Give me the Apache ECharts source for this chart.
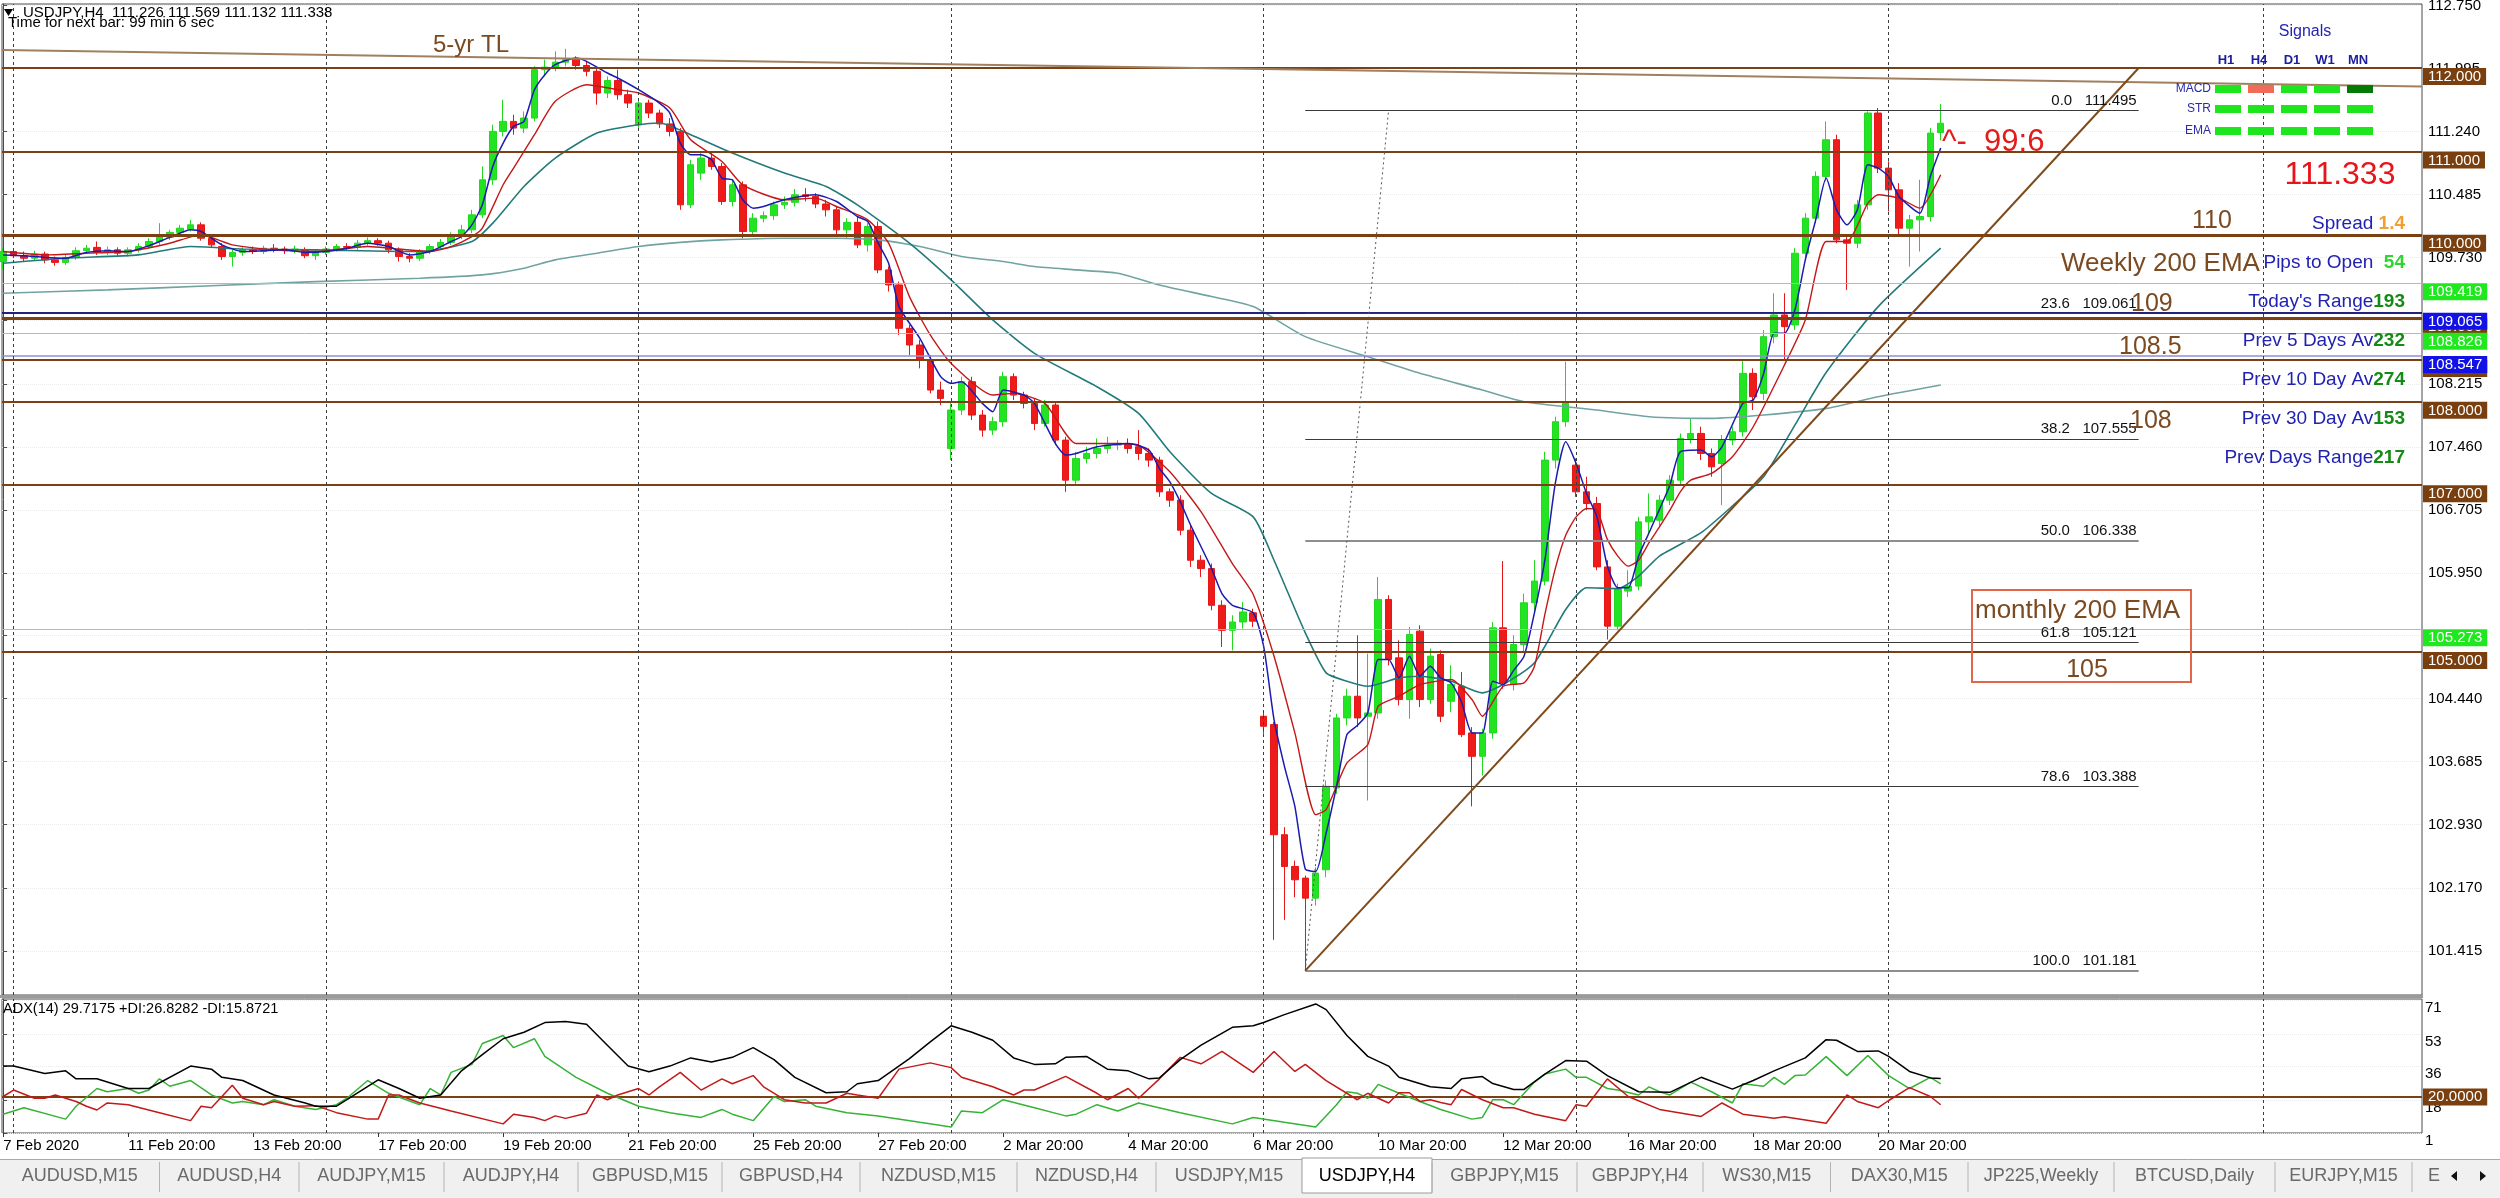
<!DOCTYPE html>
<html>
<head>
<meta charset="utf-8">
<title>USDJPY,H4</title>
<script src="https://cdn.jsdelivr.net/npm/echarts@6.0.0/dist/echarts.min.js"></script>
<style>
html,body{margin:0;padding:0;background:#ffffff;overflow:hidden}
#chart{width:2500px;height:1198px}
</style>
</head>
<body>
<div id="chart"></div>
<script>
// ---------------- DATA ----------------
// H4 bars, index 0 = 7 Feb 2020 20:00
const opens = [
109.68,109.80,109.75,109.72,109.77,109.70,109.67,109.73,109.81,109.85,
109.79,109.82,109.78,109.82,109.86,109.92,109.97,110.03,110.07,110.12,
109.96,109.86,109.74,109.79,109.82,109.80,109.84,109.83,109.81,109.82,
109.75,109.79,109.83,109.86,109.85,109.90,109.93,109.90,109.82,109.74,
109.72,109.80,109.86,109.91,109.99,110.06,110.24,110.66,111.24,111.36,
111.28,111.40,111.98,112.01,112.07,112.10,112.03,111.96,111.70,111.85,
111.68,111.32,111.58,111.46,111.33,111.24,110.36,110.74,110.92,110.82,
110.40,110.60,110.04,110.20,110.23,110.36,110.39,110.48,110.46,110.37,
110.30,110.06,110.15,109.88,110.10,109.58,109.40,108.88,108.68,108.50,
108.14,107.44,107.90,108.24,107.84,107.66,107.76,108.30,108.08,107.98,
107.74,107.96,107.54,107.06,107.32,107.38,107.44,107.48,107.50,107.46,
107.38,107.30,106.92,106.82,106.46,106.10,106.00,105.56,105.26,105.36,
105.47,104.23,104.13,102.81,102.43,102.29,102.05,102.39,103.37,104.21,
104.47,104.23,104.27,105.63,104.93,104.43,105.25,104.43,104.97,104.41,
104.59,104.03,103.75,104.03,105.29,104.61,105.09,105.59,105.85,107.30,
107.76,107.24,106.92,106.78,106.02,105.31,105.73,105.79,106.56,106.58,
106.82,107.06,107.56,107.62,107.38,107.26,107.54,107.64,108.34,108.10,
108.78,109.04,108.92,109.78,110.20,110.70,111.14,109.94,109.90,110.36,
111.46,110.80,110.54,110.08,110.18,110.22,111.226];
const closes = [
109.80,109.75,109.72,109.77,109.70,109.67,109.73,109.81,109.84,109.79,
109.82,109.78,109.82,109.86,109.92,110.00,110.03,110.08,110.12,109.96,
109.88,109.74,109.79,109.82,109.80,109.84,109.83,109.81,109.83,109.75,
109.79,109.83,109.86,109.85,109.90,109.93,109.90,109.82,109.74,109.72,
109.80,109.86,109.91,109.99,110.06,110.24,110.66,111.24,111.36,111.28,
111.40,111.98,112.01,112.07,112.10,112.03,111.96,111.70,111.85,111.68,
111.58,111.58,111.46,111.33,111.24,110.36,110.84,110.92,110.82,110.40,
110.60,110.04,110.20,110.23,110.36,110.39,110.48,110.46,110.37,110.30,
110.06,110.15,109.88,110.10,109.58,109.40,108.88,108.68,108.50,108.14,
108.04,107.90,108.24,107.84,107.66,107.76,108.30,108.08,107.98,107.74,
107.96,107.54,107.06,107.32,107.38,107.44,107.48,107.50,107.44,107.38,
107.30,106.92,106.82,106.46,106.10,106.00,105.56,105.26,105.36,105.48,
105.37,104.11,102.81,102.43,102.27,102.05,102.35,103.39,104.21,104.47,
104.21,104.27,105.63,104.91,104.43,105.21,104.43,104.95,104.23,104.61,
104.01,103.75,104.03,105.29,104.63,105.09,105.59,105.85,107.30,107.76,
107.98,106.92,106.78,106.02,105.31,105.75,105.79,106.56,106.62,106.82,
107.06,107.56,107.62,107.38,107.22,107.54,107.64,108.34,108.06,108.78,
109.04,108.90,109.78,110.20,110.70,111.14,109.94,109.90,110.36,111.46,
110.80,110.54,110.08,110.18,110.22,111.22,111.338];
const lows = [
109.58,109.72,109.68,109.69,109.66,109.63,109.64,109.70,109.77,109.76,
109.76,109.75,109.74,109.79,109.83,109.88,109.94,110.00,110.04,109.93,
109.85,109.70,109.62,109.75,109.77,109.77,109.79,109.77,109.78,109.72,
109.70,109.76,109.80,109.81,109.82,109.87,109.87,109.78,109.68,109.67,
109.69,109.77,109.83,109.88,109.95,110.02,110.20,110.60,111.18,111.20,
111.22,111.36,111.90,111.96,112.02,111.98,111.90,111.56,111.64,111.62,
111.52,111.26,111.40,111.28,111.18,110.30,110.32,110.66,110.78,110.36,
110.34,109.96,110.00,110.15,110.18,110.31,110.34,110.40,110.32,110.22,
110.00,109.96,109.84,109.80,109.54,109.32,108.80,108.56,108.40,108.10,
107.96,107.30,107.84,107.78,107.58,107.60,107.70,108.02,107.92,107.66,
107.70,107.48,106.92,107.00,107.26,107.32,107.38,107.42,107.38,107.30,
107.22,106.86,106.74,106.40,106.02,105.90,105.50,105.06,105.02,105.28,
105.30,104.02,101.55,101.79,102.06,101.181,101.96,102.30,103.30,104.12,
104.10,103.22,104.20,104.84,104.36,104.20,104.34,104.38,104.16,104.28,
103.98,103.15,103.52,103.96,104.56,104.54,105.00,105.50,105.80,107.20,
107.70,106.86,106.70,105.98,105.15,105.26,105.66,105.74,106.40,106.50,
106.76,107.00,107.50,107.30,107.10,106.76,107.48,107.58,107.90,108.02,
108.70,108.50,108.86,109.70,110.14,110.64,109.90,109.34,109.84,110.30,
110.74,110.28,109.98,109.62,109.80,110.16,111.132];
const highs = [
109.84,109.84,109.80,109.81,109.80,109.74,109.76,109.85,109.88,109.92,
109.86,109.85,109.85,109.90,109.96,110.14,110.06,110.12,110.18,110.15,
109.99,109.90,109.82,109.85,109.86,109.87,109.89,109.86,109.87,109.85,
109.82,109.86,109.89,109.90,109.94,109.97,109.96,109.93,109.85,109.78,
109.83,109.89,109.95,110.03,110.12,110.30,110.82,111.32,111.62,111.44,
111.48,112.02,112.10,112.20,112.23,112.14,112.08,112.00,111.90,111.98,
111.74,111.64,111.62,111.50,111.40,111.28,110.90,110.98,111.00,110.86,
110.66,110.64,110.26,110.28,110.40,110.46,110.55,110.56,110.50,110.42,
110.34,110.20,110.22,110.14,110.16,109.62,109.44,108.92,108.74,108.56,
108.24,108.00,108.30,108.30,107.90,107.82,108.36,108.34,108.12,108.04,
108.02,108.00,107.58,107.40,107.46,107.56,107.58,107.54,107.56,107.66,
107.44,107.34,106.96,106.88,106.52,106.16,106.06,105.62,105.44,105.60,
105.52,104.30,104.16,102.90,102.50,102.32,102.42,103.46,104.26,104.56,
105.20,104.98,105.90,105.68,105.14,105.30,105.32,105.04,105.02,104.84,
104.76,104.10,104.08,105.36,106.09,105.20,105.70,106.10,107.40,107.82,
108.48,107.32,107.10,106.86,106.10,105.82,105.98,106.62,106.90,106.88,
107.12,107.62,107.80,107.70,107.44,107.60,107.70,108.50,108.40,108.86,
109.30,109.30,109.84,110.26,110.76,111.36,111.20,110.00,110.42,111.48,
111.52,110.88,110.62,110.24,110.66,111.28,111.569];

// moving averages, [bar index, price]
const emaFast = [[0,109.76],[2,109.75],[4,109.73],[6,109.72],[8,109.79],[10,109.81],[12,109.80],[14,109.87],[16,109.97],[18,110.06],[19,110.04],[21,109.88],[23,109.80],[25,109.81],[27,109.82],[29,109.79],[31,109.80],[33,109.84],[35,109.90],[37,109.86],[39,109.76],[41,109.80],[43,109.92],[44,109.98],[45,110.12],[46,110.36],[47,110.82],[48,111.10],[49,111.30],[50,111.36],[51,111.74],[52,111.92],[53,112.04],[55,112.12],[56,112.08],[58,111.94],[59,111.88],[61,111.74],[63,111.58],[64,111.46],[65,111.10],[66,110.96],[67,110.96],[68,110.90],[69,110.68],[70,110.66],[71,110.42],[72,110.32],[73,110.34],[75,110.42],[78,110.48],[80,110.40],[82,110.22],[83,110.16],[84,109.90],[85,109.66],[86,109.14],[88,108.76],[90,108.30],[91,108.22],[92,108.24],[94,107.98],[95,107.88],[96,108.14],[98,108.08],[99,107.98],[101,107.50],[102,107.36],[103,107.38],[105,107.46],[108,107.50],[110,107.42],[111,107.20],[112,107.04],[113,106.80],[114,106.52],[116,106.00],[117,105.70],[118,105.56],[120,105.47],[121,105.07],[122,104.19],[123,103.63],[124,103.15],[125,102.40],[126,102.37],[127,102.83],[128,103.39],[129,104.01],[130,104.12],[131,104.27],[132,104.91],[133,104.91],[134,104.69],[135,104.95],[136,104.71],[137,104.83],[138,104.69],[139,104.63],[140,104.40],[141,104.03],[142,104.03],[143,104.65],[144,104.61],[145,104.78],[146,104.95],[147,105.47],[148,106.10],[149,107.02],[150,107.52],[151,107.26],[152,106.90],[153,106.62],[154,106.03],[155,105.77],[156,105.77],[157,106.15],[158,106.43],[159,106.71],[160,107.00],[161,107.40],[163,107.42],[164,107.34],[165,107.46],[167,107.98],[168,108.02],[169,108.34],[170,108.82],[171,108.82],[172,109.10],[173,109.70],[174,110.18],[175,110.68],[176,110.30],[177,110.12],[178,110.30],[179,110.84],[180,110.80],[181,110.70],[182,110.46],[184,110.26],[185,110.70],[186,111.04]];
const emaMid = [[0,109.80],[4,109.76],[8,109.78],[12,109.80],[16,109.90],[19,110.00],[22,109.88],[26,109.82],[30,109.80],[35,109.86],[38,109.83],[41,109.80],[43,109.86],[45,109.98],[46,110.08],[48,110.60],[49,110.80],[51,111.20],[53,111.60],[56,111.80],[59,111.74],[61,111.70],[64,111.52],[66,111.14],[69,110.88],[71,110.60],[75,110.42],[78,110.44],[80,110.34],[83,110.18],[85,109.90],[87,109.26],[89,108.80],[91,108.46],[95,108.08],[97,108.10],[100,107.98],[103,107.50],[107,107.50],[109,107.48],[112,107.16],[115,106.68],[118,106.06],[120,105.69],[122,104.95],[124,104.03],[126,103.05],[127,103.11],[129,103.67],[131,103.89],[132,104.35],[134,104.47],[136,104.61],[139,104.67],[141,104.43],[142,104.23],[144,104.59],[146,104.63],[147,104.83],[148,105.45],[149,106.00],[150,106.40],[151,106.62],[152,106.72],[153,106.70],[154,106.35],[155,106.15],[156,106.03],[157,106.10],[158,106.31],[159,106.50],[160,106.70],[161,106.92],[162,107.06],[164,107.14],[166,107.34],[168,107.70],[171,108.44],[173,108.98],[175,109.92],[177,109.92],[179,110.38],[180,110.48],[182,110.44],[184,110.32],[186,110.72]];
const emaSlow = [[0,109.66],[6,109.72],[13,109.76],[18,109.86],[23,109.83],[30,109.82],[40,109.80],[45,109.92],[47,110.14],[50,110.58],[53,110.92],[57,111.22],[61,111.32],[63,111.34],[66,111.20],[70,110.98],[75,110.74],[79,110.58],[82,110.36],[87,109.90],[91,109.46],[95,108.98],[99,108.58],[105,108.18],[109,107.86],[112,107.40],[116,106.90],[120,106.62],[122,106.10],[125,105.23],[127,104.75],[129,104.65],[131,104.59],[134,104.69],[136,104.71],[139,104.65],[142,104.51],[144,104.61],[147,104.87],[150,105.51],[152,105.77],[155,105.76],[157,105.91],[159,106.15],[163,106.43],[166,106.75],[169,107.10],[172,107.72],[175,108.35],[180,109.14],[186,109.84]];
const ema200 = [[0,109.30],[10,109.34],[20,109.39],[30,109.44],[40,109.48],[46,109.52],[50,109.60],[53,109.70],[57,109.78],[61,109.86],[65,109.91],[69,109.94],[75,109.96],[80,109.96],[84,109.94],[88,109.86],[92,109.74],[96,109.68],[99,109.62],[103,109.58],[107,109.54],[111,109.40],[116,109.26],[120,109.14],[125,108.78],[131,108.54],[136,108.34],[142,108.14],[146,108.00],[153,107.90],[158,107.82],[164,107.80],[169,107.84],[175,107.92],[180,108.06],[186,108.20]];

// ADX(14) panel, [bar index, value]
const adx = [[0,36.2],[1,36.2],[4,32.3],[6,33.7],[7,29.5],[9,29.5],[12,24.4],[14,24.4],[18,36.2],[20,34.6],[21,30.3],[23,28.6],[26,21.0],[29,16.8],[30,15.1],[32,15.1],[33,18.5],[36,29.0],[38,24.4],[40,19.3],[42,21.0],[44,33.7],[46,42.2],[48,50.6],[50,54.0],[52,59.1],[54,59.6],[56,58.2],[58,47.2],[60,36.2],[62,33.2],[64,36.2],[66,40.5],[68,38.4],[70,40.8],[72,45.9],[74,39.6],[76,30.3],[79,22.2],[81,22.7],[82,26.9],[84,28.6],[87,40.1],[89,48.9],[91,57.4],[93,54.0],[95,49.8],[97,40.5],[99,37.1],[101,37.4],[102,40.8],[104,41.3],[106,34.6],[108,33.7],[110,29.5],[111,30.0],[113,39.6],[115,47.2],[118,56.6],[120,57.4],[121,59.1],[123,63.3],[126,68.9],[127,65.9],[129,52.3],[131,41.3],[133,36.2],[134,30.3],[137,25.3],[139,24.4],[140,29.5],[142,30.7],[143,27.0],[145,23.9],[146,23.9],[148,32.0],[150,39.1],[152,38.8],[154,31.2],[157,22.7],[160,22.4],[163,30.3],[166,24.1],[168,28.6],[170,33.7],[173,40.5],[175,50.1],[176,49.8],[178,43.9],[180,44.2],[181,41.3],[183,33.4],[185,30.0],[186,29.72]];
const plusDI = [[0,10.9],[2,14.3],[6,8.3],[7,15.1],[9,24.4],[10,22.7],[12,24.4],[13,21.9],[14,23.6],[15,29.5],[16,25.6],[18,28.6],[20,21.0],[22,16.8],[23,17.6],[25,15.9],[26,18.5],[28,15.1],[30,13.4],[32,15.9],[33,19.3],[35,28.6],[37,21.9],[40,15.9],[41,24.4],[42,21.0],[43,32.9],[45,37.1],[46,48.1],[48,52.3],[49,45.9],[51,50.6],[52,41.3],[55,30.3],[58,21.9],[61,15.1],[64,11.7],[67,9.2],[69,13.4],[70,10.9],[72,7.5],[74,20.2],[75,17.6],[77,18.5],[78,15.1],[81,11.7],[84,10.0],[88,6.6],[91,4.1],[92,12.6],[94,11.7],[96,18.5],[99,14.3],[102,10.0],[103,10.9],[105,15.9],[107,12.6],[109,16.8],[113,11.7],[118,5.8],[120,9.2],[123,6.6],[126,4.1],[128,15.9],[129,22.7],[130,21.9],[131,19.3],[132,26.6],[134,21.9],[136,17.6],[138,13.4],[141,8.3],[142,9.2],[143,18.5],[144,18.5],[145,15.9],[147,27.8],[148,32.0],[150,34.6],[151,30.3],[152,30.3],[154,24.4],[155,23.6],[157,21.0],[158,25.3],[159,22.7],[160,21.0],[162,27.8],[164,22.7],[166,16.8],[167,26.9],[169,25.6],[170,30.3],[171,26.6],[172,31.2],[173,31.5],[175,41.2],[177,31.2],[179,41.8],[181,31.2],[183,24.4],[185,30.3],[186,26.83]];
const minusDI = [[0,20.2],[1,23.6],[3,19.3],[4,19.3],[5,21.0],[7,17.6],[8,15.1],[9,13.1],[10,16.8],[12,15.9],[15,11.7],[18,7.5],[19,15.1],[20,14.3],[22,26.1],[23,19.3],[25,15.9],[26,17.6],[28,15.1],[30,15.4],[32,11.7],[35,8.3],[36,8.3],[37,21.0],[38,21.0],[40,16.8],[43,12.6],[48,5.8],[49,10.9],[51,9.2],[52,7.5],[53,10.0],[54,8.7],[56,11.4],[57,21.0],[58,18.5],[59,21.0],[61,24.4],[62,21.0],[63,25.3],[65,32.9],[67,23.6],[69,29.5],[70,26.9],[72,31.2],[73,25.3],[75,18.5],[77,16.8],[79,16.8],[81,21.9],[82,21.0],[84,19.3],[86,34.6],[89,37.9],[91,35.4],[92,30.3],[95,25.3],[97,21.0],[98,23.6],[99,23.6],[102,30.8],[105,21.9],[106,18.5],[108,24.4],[109,19.3],[111,29.5],[113,40.8],[115,37.4],[117,43.9],[120,32.9],[122,43.9],[124,33.4],[125,37.1],[127,28.6],[130,18.5],[131,21.9],[132,19.3],[133,16.8],[134,22.2],[135,22.2],[136,17.6],[137,18.5],[138,17.1],[139,15.9],[140,23.9],[142,18.5],[144,14.3],[145,14.3],[147,10.9],[150,7.5],[151,15.9],[152,15.1],[154,29.5],[156,20.2],[159,13.4],[163,9.7],[165,16.8],[167,10.9],[170,8.7],[171,9.5],[175,6.1],[177,21.0],[178,17.6],[180,14.3],[181,18.1],[183,24.9],[185,20.2],[186,15.87]];

// axes
const xLabelIdx = [0,12,24,36,48,60,72,84,96,108,120,132,144,156,168,180];
const xLabels = ['7 Feb 2020','11 Feb 20:00','13 Feb 20:00','17 Feb 20:00','19 Feb 20:00','21 Feb 20:00','25 Feb 20:00','27 Feb 20:00','2 Mar 20:00','4 Mar 20:00','6 Mar 20:00','10 Mar 20:00','12 Mar 20:00','16 Mar 20:00','18 Mar 20:00','20 Mar 20:00'];
const priceTicks = [101.415,102.170,102.930,103.685,104.440,105.195,105.950,106.705,107.460,108.215,108.975,109.730,110.485,111.240,111.995,112.750];
const adxTicks = [71,53,36,18,1];
const weekSeparators = [1,31,61,91,121,151,181,217];

// drawn objects
const brownLevels = [112,111,110,109,108.5,108,107,105];
const greenLevels = [109.419,108.826,105.273];
const blueLevels = [109.065,108.547];
const lastPrice = 111.338;
const adxLevel = 20;
const fibLevels = ['0.0','23.6','38.2','50.0','61.8','78.6','100.0'];
const fibPrices = [111.495,109.061,107.555,106.338,105.121,103.388,101.181];
const fibFrom = 125, fibTo = 205;
const trendUp = [[125,101.181],[205,112.0]];
const trend5yr = [[-0.11,112.216],[232.2,111.777]];
const fibDiagonal = [[125,101.181],[133,111.495]];

// text panels
const signalRows = ['MACD','STR','EMA'];
const signalCols = ['H1','H4','D1','W1','MN'];
const signalState = [['up','down','up','up','strong'],['up','up','up','up','up'],['up','up','up','up','up']];
const statNames = ['Spread ','Pips to Open  ',"Today's Range",'Prev 5 Days Av','Prev 10 Day Av','Prev 30 Day Av','Prev Days Range'];
const statValues = ['1.4','54','193','232','274','153','217'];
const tabNames = ['AUDUSD,M15','AUDUSD,H4','AUDJPY,M15','AUDJPY,H4','GBPUSD,M15','GBPUSD,H4','NZDUSD,M15','NZDUSD,H4','USDJPY,M15','USDJPY,H4','GBPJPY,M15','GBPJPY,H4','WS30,M15','DAX30,M15','JP225,Weekly','BTCUSD,Daily','EURJPY,M15'];
const activeTab = 'USDJPY,H4';

// ---------------- CHART ----------------
const FONT = "'Liberation Sans', Arial, sans-serif";
const BROWN = '#7b4013';
const TEXTBROWN = '#7b4a20';
const xMin = -0.11, xMax = 232.2;
const yMin = 100.889, yMax = 112.767;

const chart = echarts.init(document.getElementById('chart'), null, {renderer: 'canvas'});

function boxLabel(p, bg, mid) {
  return {show: true, position: 'end', distance: 1, formatter: p.toFixed(3), color: '#ffffff',
    backgroundColor: bg, padding: [1, 5, 0, 5], lineHeight: 16, fontSize: 15, fontFamily: FONT,
    verticalAlign: mid ? 'middle' : 'top'};
}

const levelLines = [];
brownLevels.forEach(p => levelLines.push({yAxis: p, lineStyle: {color: BROWN, width: (p === 110 || p === 109) ? 3 : 2, type: 'solid'}, label: boxLabel(p, '#7a3f0f')}));
greenLevels.forEach(p => levelLines.push({yAxis: p, lineStyle: {color: '#8ad88a', width: 1, type: 'solid'}, label: boxLabel(p, '#1fe81f')}));
blueLevels.forEach((p, i) => levelLines.push({yAxis: p, lineStyle: {color: i === 0 ? '#22227e' : '#8f8fd8', width: i === 0 ? 2 : 1.5, type: 'solid'}, label: boxLabel(p, '#1212e6')}));
levelLines.push({yAxis: lastPrice, lineStyle: {opacity: 0}, label: boxLabel(lastPrice, '#000000', true)});
weekSeparators.forEach(i => levelLines.push({xAxis: i, lineStyle: {color: '#3c3c3c', width: 1, type: [3, 3]}, label: {show: false}}));
fibLevels.forEach((lv, i) => {
  const gray = (lv === '50.0' || lv === '100.0');
  levelLines.push([
    {coord: [fibFrom, fibPrices[i]], lineStyle: {color: gray ? '#8e8e8e' : '#3a3a3a', width: gray ? 2 : 1, type: 'solid'},
     label: {show: true, position: 'insideEndTop', distance: 2, formatter: lv + '   ' + fibPrices[i].toFixed(3), color: '#111', fontSize: 15, fontFamily: FONT}},
    {coord: [fibTo, fibPrices[i]]}
  ]);
});
levelLines.push([{coord: trend5yr[0], lineStyle: {color: '#a0805f', width: 2, type: 'solid'}, label: {show: false}}, {coord: trend5yr[1]}]);
levelLines.push([{coord: trendUp[0], lineStyle: {color: '#7f4a1a', width: 2, type: 'solid'}, label: {show: false}}, {coord: trendUp[1]}]);
levelLines.push([{coord: fibDiagonal[0], lineStyle: {color: '#555', width: 1, type: [2, 3]}, label: {show: false}}, {coord: fibDiagonal[1]}]);

const adxLines = [
  {yAxis: adxLevel, lineStyle: {color: BROWN, width: 2, type: 'solid'},
   label: {show: true, position: 'end', distance: 1, formatter: '20.0000', color: '#fff', backgroundColor: '#7a3f0f', padding: [1, 5, 0, 5], lineHeight: 16, fontSize: 15, fontFamily: FONT}}
];
weekSeparators.forEach(i => adxLines.push({xAxis: i, lineStyle: {color: '#3c3c3c', width: 1, type: [3, 3]}, label: {show: false}}));

const candleData = opens.map((o, i) => [i, o, closes[i], lows[i], highs[i]]);

function maSeries(name, data, color, width) {
  return {name: name, type: 'line', xAxisIndex: 0, yAxisIndex: 0, data: data, showSymbol: false, symbol: 'none',
    smooth: 0.2, lineStyle: {color: color, width: width}, z: 4, silent: true};
}
function adxSeries(name, data, color, z) {
  return {name: name, type: 'line', xAxisIndex: 1, yAxisIndex: 1, data: data, showSymbol: false, symbol: 'none',
    lineStyle: {color: color, width: 1.5}, z: z, silent: true};
}

// ---------- graphic (texts and panel chrome) ----------
function T(x, y, text, font, fill, align, vAlign) {
  return {type: 'text', x: x, y: y, z: 100, silent: true,
    style: {text: text, font: font, fill: fill, align: align || 'left', textAlign: align || 'left',
      verticalAlign: vAlign || 'middle', textVerticalAlign: vAlign || 'middle'}};
}
const g = [];
// panel separator
g.push({type: 'rect', z: 50, silent: true, shape: {x: 0, y: 995, width: 2423, height: 3}, style: {fill: '#9a9a9a'}});
// header
g.push({type: 'polygon', z: 100, silent: true, shape: {points: [[4, 9], [13, 9], [8.5, 16]]}, style: {fill: '#000'}});
g.push(T(23, 13, 'USDJPY,H4  111.226 111.569 111.132 111.338', '15px ' + FONT, '#000'));
g.push(T(8, 23, 'Time for next bar: 99 min 6 sec', '15px ' + FONT, '#000'));
g.push(T(3, 1009, 'ADX(14) 29.7175 +DI:26.8282 -DI:15.8721', '14.5px ' + FONT, '#000'));
// chart annotations
g.push(T(471, 45, '5-yr TL', '24px ' + FONT, TEXTBROWN, 'center'));
g.push(T(1942, 142, '^-  99:6', '31px ' + FONT, '#e21b1b'));
g.push(T(2340, 175, '111.333', '32px ' + FONT, '#e8141c', 'center'));
g.push(T(2212, 221, '110', '25px ' + FONT, TEXTBROWN, 'center'));
g.push(T(2061, 264, 'Weekly 200 EMA', '26px ' + FONT, TEXTBROWN));
g.push(T(2131, 304, '109', '25px ' + FONT, TEXTBROWN));
g.push(T(2119, 347, '108.5', '25px ' + FONT, TEXTBROWN));
g.push(T(2130, 421, '108', '25px ' + FONT, TEXTBROWN));
g.push({type: 'rect', z: 60, silent: true, shape: {x: 1972, y: 590, width: 219, height: 92}, style: {fill: 'none', stroke: '#e2674a', lineWidth: 2}});
g.push(T(1975, 611, 'monthly 200 EMA', '26px ' + FONT, TEXTBROWN));
g.push(T(2087, 670, '105', '25px ' + FONT, TEXTBROWN, 'center'));
// signals
g.push(T(2305, 32, 'Signals', '16px ' + FONT, '#2424b4', 'center'));
const colX = [2228, 2261, 2294, 2327, 2360];
const rowY = [89, 109, 131];
const stateColor = {up: '#1ee61e', down: '#f26a5a', strong: '#047a04'};
signalCols.forEach((c, j) => g.push(T(colX[j] - 2, 60, c, 'bold 13px ' + FONT, '#1c1c9e', 'center')));
signalRows.forEach((r, i) => {
  g.push(T(2211, rowY[i], r, '12px ' + FONT, '#2a2aa6', 'right'));
  signalCols.forEach((c, j) => g.push({type: 'rect', z: 100, silent: true, shape: {x: colX[j] - 13, y: rowY[i] - 4, width: 26, height: 8}, style: {fill: stateColor[signalState[i][j]]}}));
});
// stats
const statY = [224, 263, 302, 341, 380, 419, 458];
const statColor = ['#f0a030', '#2fd42f', '#168a16', '#168a16', '#168a16', '#168a16', '#168a16'];
statNames.forEach((s, i) => g.push({type: 'text', x: 2405, y: statY[i], z: 100, silent: true,
  style: {text: '{a|' + s + '}{b|' + statValues[i] + '}',
    rich: {a: {fill: '#2222b2', font: '19px ' + FONT}, b: {fill: statColor[i], font: 'bold 19px ' + FONT}},
    align: 'right', textAlign: 'right', verticalAlign: 'middle', textVerticalAlign: 'middle'}}));
// tab bar
const tabEdges = [0, 159.5, 299, 444, 578, 722, 860, 1017, 1156, 1302, 1432, 1577, 1703, 1830.5, 1968, 2114, 2275, 2412];
g.push({type: 'rect', z: 90, silent: true, shape: {x: 0, y: 1159, width: 2500, height: 39}, style: {fill: '#f0f0f0'}});
g.push({type: 'line', z: 91, silent: true, shape: {x1: 0, y1: 1159.5, x2: 2500, y2: 1159.5}, style: {stroke: '#a8a8a8', lineWidth: 1}});
tabNames.forEach((n, i) => {
  const x0 = tabEdges[i], x1 = tabEdges[i + 1];
  if (n === activeTab) {
    g.push({type: 'rect', z: 92, silent: true, shape: {x: x0, y: 1158, width: x1 - x0, height: 35}, style: {fill: '#ffffff', stroke: '#9a9a9a', lineWidth: 1}});
  } else if (i > 0) {
    g.push({type: 'line', z: 92, silent: true, shape: {x1: x0, y1: 1162, x2: x0, y2: 1192}, style: {stroke: '#b4b4b4', lineWidth: 1}});
  }
  g.push(T((x0 + x1) / 2, 1176, n, '18px ' + FONT, n === activeTab ? '#000' : '#6a6a6a', 'center'));
});
g.push({type: 'line', z: 92, silent: true, shape: {x1: 2412, y1: 1162, x2: 2412, y2: 1192}, style: {stroke: '#b4b4b4', lineWidth: 1}});
g.push(T(2428, 1176, 'E', '18px ' + FONT, '#6a6a6a'));
g.push({type: 'polygon', z: 95, silent: true, shape: {points: [[2451, 1176], [2457, 1171], [2457, 1181]]}, style: {fill: '#111'}});
g.push({type: 'polygon', z: 95, silent: true, shape: {points: [[2486, 1176], [2480, 1171], [2480, 1181]]}, style: {fill: '#111'}});

const option = {
  animation: false,
  backgroundColor: '#ffffff',
  textStyle: {fontFamily: FONT},
  grid: [
    {left: 2, top: 4, width: 2420, height: 991, show: true, borderColor: '#4a4a4a', borderWidth: 1, backgroundColor: 'transparent', outerBoundsMode: 'none', containLabel: false},
    {left: 2, top: 999, width: 2420, height: 134, show: true, borderColor: '#4a4a4a', borderWidth: 1, backgroundColor: 'transparent', outerBoundsMode: 'none', containLabel: false}
  ],
  xAxis: [
    {type: 'value', gridIndex: 0, min: xMin, max: xMax, show: false},
    {type: 'value', gridIndex: 1, min: xMin, max: xMax,
      axisLine: {show: false}, splitLine: {show: false},
      axisTick: {show: true, customValues: xLabelIdx, length: 4, lineStyle: {color: '#333'}},
      axisLabel: {customValues: xLabelIdx, formatter: v => { const k = xLabelIdx.indexOf(Math.round(v)); return k >= 0 ? xLabels[k] : ''; },
        align: 'left', fontSize: 15, color: '#000', margin: 5, fontFamily: FONT}}
  ],
  yAxis: [
    {type: 'value', gridIndex: 0, position: 'right', min: yMin, max: yMax,
      axisLine: {show: true, lineStyle: {color: '#4a4a4a'}},
      axisTick: {show: true, customValues: priceTicks, length: 4, lineStyle: {color: '#4a4a4a'}},
      axisLabel: {customValues: priceTicks, formatter: v => v.toFixed(3), fontSize: 15, color: '#000', margin: 6, fontFamily: FONT},
      splitLine: {show: true, lineStyle: {color: '#ebebeb', type: 'dotted'}}},
    {type: 'value', gridIndex: 1, position: 'right', min: 1, max: 71.5,
      axisLine: {show: true, lineStyle: {color: '#4a4a4a'}},
      axisTick: {show: true, customValues: adxTicks, length: 4, lineStyle: {color: '#4a4a4a'}},
      axisLabel: {customValues: adxTicks, formatter: v => String(Math.round(v)), fontSize: 15, color: '#000', margin: 3, verticalAlign: 'top', fontFamily: FONT},
      splitLine: {show: true, lineStyle: {color: '#ebebeb', type: 'dotted'}}}
  ],
  series: [
    {name: 'levels', type: 'line', xAxisIndex: 0, yAxisIndex: 0, data: [[0, 110]], symbol: 'none', showSymbol: false,
      lineStyle: {opacity: 0}, z: 1, silent: true,
      markLine: {symbol: ['none', 'none'], silent: true, animation: false, precision: 3, data: levelLines}},
    {name: 'USDJPY,H4', type: 'candlestick', xAxisIndex: 0, yAxisIndex: 0, data: candleData,
      dimensions: ['bar', 'open', 'close', 'low', 'high'], encode: {x: 0, y: [1, 2, 3, 4]},
      barWidth: 7, z: 3, silent: true,
      itemStyle: {color: '#22e422', color0: '#ee1b1b', borderColor: '#22d822', borderColor0: '#e81616', borderWidth: 1}},
    maSeries('EMA slow2', ema200, '#72a3a3', 1.6),
    maSeries('EMA slow', emaSlow, '#237a7a', 1.6),
    maSeries('EMA mid', emaMid, '#c41818', 1.4),
    maSeries('EMA fast', emaFast, '#1b1bb0', 1.5),
    Object.assign(adxSeries('ADX', adx, '#000000', 6), {markLine: {symbol: ['none', 'none'], silent: true, animation: false, data: adxLines}}),
    adxSeries('+DI', plusDI, '#36b336', 5),
    adxSeries('-DI', minusDI, '#c21a1a', 5)
  ],
  graphic: g
};
chart.setOption(option);
</script>
</body>
</html>
